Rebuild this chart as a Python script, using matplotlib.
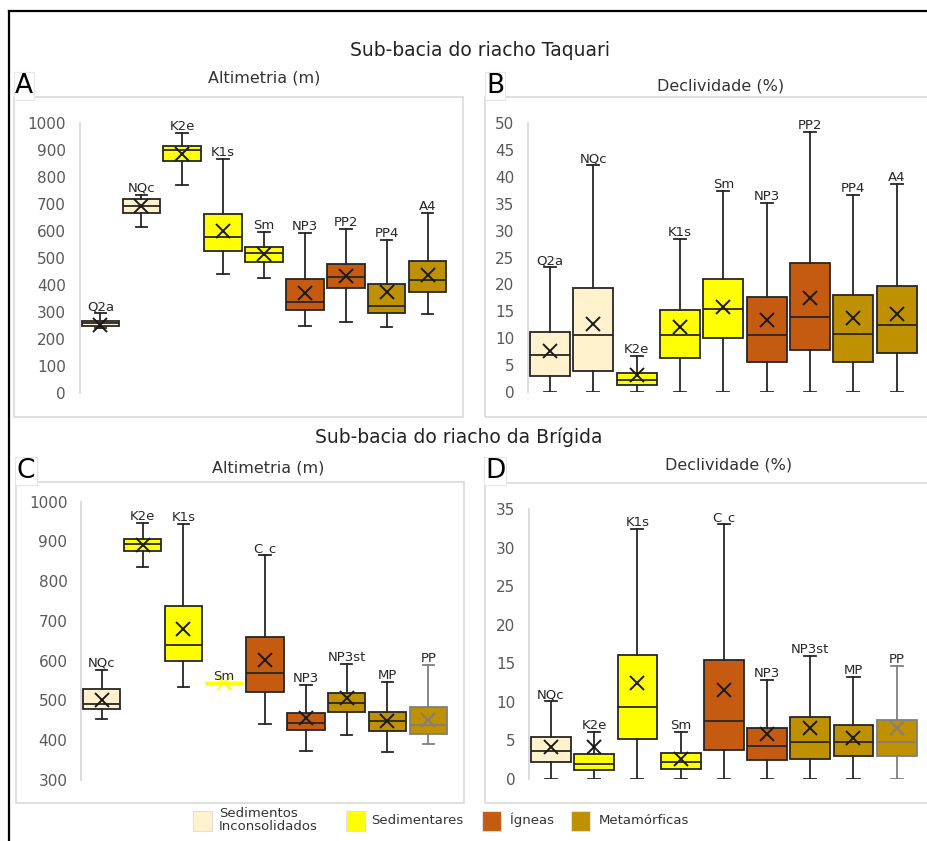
import numpy as np
import matplotlib.pyplot as plt
from matplotlib.patches import Rectangle
from matplotlib.lines import Line2D

W, H = 927, 841

# grupos litologicos e cores da legenda
grupos = ['Sedimentos\nInconsolidados', 'Sedimentares', 'Ígneas', 'Metamórficas']
cores = ['#FFF2CC', '#FFFF00', '#C55A11', '#BF9000']
grupo_de = {'Q2a': 0, 'NQc': 0, 'K2e': 1, 'K1s': 1, 'Sm': 1,
            'NP3': 2, 'PP2': 2, 'C_c': 2,
            'PP4': 3, 'A4': 3, 'NP3st': 3, 'MP': 3, 'PP': 3}
esmaecidos = ['PP']   # contorno cinza na sub-bacia da Brigida

# Sub-bacia do riacho Taquari
cat_taq = ['Q2a', 'NQc', 'K2e', 'K1s', 'Sm', 'NP3', 'PP2', 'PP4', 'A4']
alt_taq_min = [240, 613, 771, 440, 425, 249, 261, 246, 293]
alt_taq_q1 = [248, 667, 860, 527, 486, 308, 390, 296, 372]
alt_taq_med = [258, 693, 899, 576, 517, 335, 431, 323, 417]
alt_taq_q3 = [268, 717, 915, 661, 539, 421, 478, 404, 488]
alt_taq_max = [295, 733, 963, 865, 595, 591, 607, 567, 665]
alt_taq_media = [252, 693, 883, 601, 515, 369, 433, 373, 437]

dec_taq_min = [0, 0, 0, 0, 0, 0, 0, 0, 0]
dec_taq_q1 = [3.0, 4.0, 1.3, 6.3, 10.1, 5.7, 7.9, 5.7, 7.2]
dec_taq_med = [6.9, 10.7, 2.3, 10.6, 15.5, 10.6, 14.0, 10.9, 12.4]
dec_taq_q3 = [11.1, 19.3, 3.5, 15.2, 21.0, 17.6, 24.0, 18.0, 19.7]
dec_taq_max = [23.2, 42.1, 6.8, 28.4, 37.3, 35.2, 48.3, 36.6, 38.6]
dec_taq_media = [7.7, 12.7, 3.2, 12.2, 15.9, 13.4, 17.4, 13.8, 14.6]

# Sub-bacia do riacho da Brigida
cat_bri = ['NQc', 'K2e', 'K1s', 'Sm', 'C_c', 'NP3', 'NP3st', 'MP', 'PP']
alt_bri_min = [453, 837, 535, 543, 440, 374, 414, 370, 391]
alt_bri_q1 = [478, 877, 600, 543, 522, 426, 471, 422, 416]
alt_bri_med = [490, 893, 639, 543, 570, 444, 493, 448, 438]
alt_bri_q3 = [530, 906, 738, 543, 659, 469, 520, 472, 484]
alt_bri_max = [577, 947, 943, 543, 866, 539, 593, 547, 588]
alt_bri_media = [501, 891, 679, 543, 602, 457, 507, 448, 451]

dec_bri_min = [0, 0, 0, 0, 0, 0, 0, 0, 0]
dec_bri_q1 = [2.2, 1.2, 5.2, 1.3, 3.8, 2.5, 2.6, 3.0, 3.0]
dec_bri_med = [3.6, 1.9, 9.3, 2.2, 7.5, 4.3, 4.8, 4.8, 4.8]
dec_bri_q3 = [5.4, 3.2, 16.1, 3.4, 15.4, 6.6, 8.0, 7.0, 7.7]
dec_bri_max = [10.1, 6.1, 32.5, 6.1, 33.1, 12.8, 15.9, 13.2, 14.6]
dec_bri_media = [4.1, 4.1, 12.5, 2.6, 11.6, 5.8, 6.6, 5.3, 6.6]


def fx(px):
    return px / W


def fy(py):
    return 1 - py / H


fig = plt.figure(figsize=(W / 100, H / 100), dpi=100)
plt.rcParams['font.family'] = ['DejaVu Sans']

# moldura externa (so esquerda e topo)
fig.add_artist(Line2D([fx(9), fx(W)], [fy(11), fy(11)], color='black', lw=1.6))
fig.add_artist(Line2D([fx(9), fx(9)], [fy(11), fy(H)], color='black', lw=1.6))

fig.text(fx(480), fy(50), 'Sub-bacia do riacho Taquari', ha='center', va='center', fontsize=13.5, color='#222222')
fig.text(fx(459), fy(437), 'Sub-bacia do riacho da Brígida', ha='center', va='center', fontsize=13.5, color='#222222')

# (letra, titulo, categorias, dados, ticks, caixa do painel, area do grafico, posicao titulo, posicao letra)
paineis = [
    ('A', 'Altimetria (m)', cat_taq,
     (alt_taq_min, alt_taq_q1, alt_taq_med, alt_taq_q3, alt_taq_max, alt_taq_media),
     np.arange(0, 1001, 100), (14, 97, 463, 417), (80, 122.7, 448, 393), (264, 78), (24, 86)),
    ('B', 'Declividade (%)', cat_taq,
     (dec_taq_min, dec_taq_q1, dec_taq_med, dec_taq_q3, dec_taq_max, dec_taq_media),
     np.arange(0, 51, 5), (485, 97, 940, 417), (528.3, 122.7, 918.4, 392.3), (721, 86), (495, 86)),
    ('C', 'Altimetria (m)', cat_bri,
     (alt_bri_min, alt_bri_q1, alt_bri_med, alt_bri_q3, alt_bri_max, alt_bri_media),
     np.arange(300, 1001, 100), (15.5, 482, 464, 803), (81.3, 501.7, 448.7, 780), (268, 468), (26, 471)),
    ('D', 'Declividade (%)', cat_bri,
     (dec_bri_min, dec_bri_q1, dec_bri_med, dec_bri_q3, dec_bri_max, dec_bri_media),
     np.arange(0, 36, 5), (485, 482.5, 940, 803), (529.4, 509.3, 918.3, 779), (729, 465), (495, 471)),
]

for letra, titulo, cats, dados, ticks, caixa, area, pos_tit, pos_let in paineis:
    x0, y0, x1, y1 = caixa
    fig.add_artist(Rectangle((fx(x0), fy(y1)), fx(x1 - x0), (y1 - y0) / H,
                             fill=False, edgecolor='#D9D9D9', lw=1.2))
    fig.text(fx(pos_tit[0]), fy(pos_tit[1]), titulo, ha='center', va='center', fontsize=11.5, color='#333333')
    fig.text(fx(pos_let[0]), fy(pos_let[1]), letra, ha='center', va='center', fontsize=19, color='black',
             bbox=dict(boxstyle='square,pad=0.05', facecolor='white', edgecolor='#E6E6E6', lw=0.8))

    l, t, r, b = area
    ax = fig.add_axes([fx(l), fy(b), fx(r - l), (b - t) / H])
    mn, q1, med, q3, mx, media = dados
    stats = []
    for i, c in enumerate(cats):
        stats.append(dict(label=c, whislo=mn[i], q1=q1[i], med=med[i], q3=q3[i],
                          whishi=mx[i], mean=media[i], fliers=[]))
    n = len(cats)
    bp = ax.bxp(stats, positions=np.arange(n), widths=0.92, showmeans=True, patch_artist=True,
                capwidths=0.28,
                boxprops=dict(edgecolor='#262626', linewidth=1.3),
                medianprops=dict(color='#262626', linewidth=1.3),
                whiskerprops=dict(color='#262626', linewidth=1.3),
                capprops=dict(color='#262626', linewidth=1.3),
                meanprops=dict(marker='x', markeredgecolor='#1a1a1a', markersize=10.5, markeredgewidth=1.4))

    for i, c in enumerate(cats):
        cor = cores[grupo_de[c]]
        bp['boxes'][i].set_facecolor(cor)
        if q1[i] == q3[i]:
            # todos os valores iguais: so uma linha colorida
            bp['boxes'][i].set_edgecolor(cor)
            bp['boxes'][i].set_linewidth(2.5)
            bp['medians'][i].set_color(cor)
            bp['medians'][i].set_linewidth(2.5)
            bp['means'][i].set_markeredgecolor(cor)
            for art in bp['caps'][2 * i:2 * i + 2]:
                art.set_visible(False)
        if letra in ('C', 'D') and c in esmaecidos:
            cinza = '#7F7F7F'
            bp['boxes'][i].set_edgecolor(cinza)
            bp['medians'][i].set_color(cinza)
            bp['means'][i].set_markeredgecolor(cinza)
            for art in bp['whiskers'][2 * i:2 * i + 2] + bp['caps'][2 * i:2 * i + 2]:
                art.set_color(cinza)
        ax.annotate(c, (i, mx[i]), xytext=(0, 0), textcoords='offset points',
                    ha='center', va='bottom', fontsize=9.5, color='#262626')

    ax.set_xlim(-0.5, n - 0.5)
    ax.set_ylim(ticks[0], ticks[-1])
    ax.set_yticks(ticks)
    ax.set_xticks([])
    ax.tick_params(axis='y', length=0, pad=10, labelsize=11, labelcolor='#595959')
    for s in ['top', 'right', 'bottom']:
        ax.spines[s].set_visible(False)
    ax.spines['left'].set_color('#D9D9D9')
    ax.spines['left'].set_linewidth(1.3)
    ax.patch.set_visible(False)

# legenda
leg_x = [193, 346, 482, 571]
leg_tx = [219, 371, 510, 599]
for g, cor, px, tx in zip(grupos, cores, leg_x, leg_tx):
    fig.add_artist(Rectangle((fx(px), fy(831)), fx(19), 20 / H, facecolor=cor, edgecolor='#E0E0E0', lw=0.8))
    fig.text(fx(tx), fy(820), g, ha='left', va='center', fontsize=9.5, color='#333333', linespacing=1.05)

fig.savefig('out.png', dpi=100)
